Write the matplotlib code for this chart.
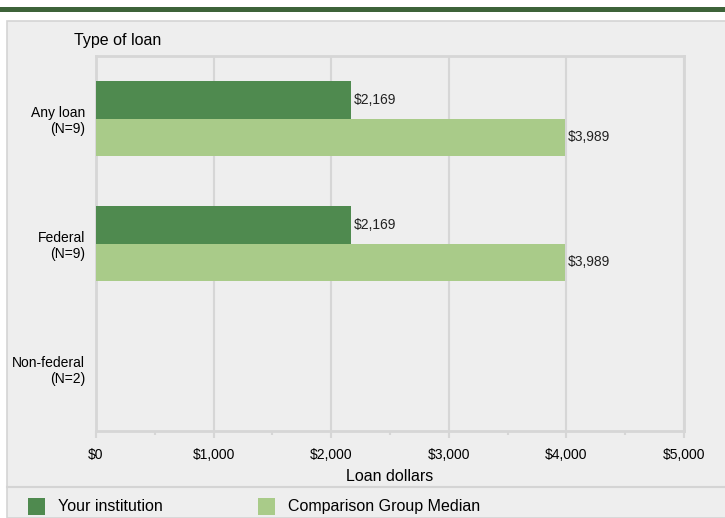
import matplotlib
matplotlib.use('Agg')
import matplotlib.pyplot as plt
from matplotlib.patches import Rectangle
from matplotlib.lines import Line2D
from matplotlib.ticker import MultipleLocator, FuncFormatter
import numpy as np

plt.rcParams['font.family'] = ['Liberation Sans', 'DejaVu Sans']

categories = ['Any loan\n(N=9)', 'Federal\n(N=9)', 'Non-federal\n(N=2)']
your_institution = [2169, 2169, np.nan]
comparison_median = [3989, 3989, np.nan]
x_ticks = [0, 1000, 2000, 3000, 4000, 5000]

DARK = '#4f8a4f'
LIGHT = '#a9cb89'
BG = '#eeeeee'
GRID = '#d6d6d6'

W, H = 725, 518
fig = plt.figure(figsize=(W / 100, H / 100), dpi=100)
fig.patch.set_facecolor('white')

def fx(px):
    return px / W

def fy(py):
    return 1 - py / H

# top band and panel (behind the axes)
fig.patches.append(Rectangle((0, fy(12)), 1, 5 / H, transform=fig.transFigure,
                             facecolor='#3d6339', edgecolor='none', zorder=-5))
fig.patches.append(Rectangle((fx(7), 0), 1, fy(21), transform=fig.transFigure,
                             facecolor=BG, edgecolor='#d4d4d4', linewidth=1.2, zorder=-5))
fig.lines.append(Line2D([fx(7), 1], [fy(487), fy(487)], transform=fig.transFigure,
                        color='#d4d4d4', linewidth=1.5, zorder=-4))

ax = fig.add_axes([fx(96), fy(431), fx(684) - fx(96), (431 - 56) / H])
ax.set_facecolor(BG)

y = np.arange(len(categories))
h = 0.3
bars1 = ax.barh(y - h / 2, your_institution, height=h, color=DARK, zorder=3)
bars2 = ax.barh(y + h / 2, comparison_median, height=h, color=LIGHT, zorder=3)

for bars, vals in ((bars1, your_institution), (bars2, comparison_median)):
    for b, v in zip(bars, vals):
        if np.isnan(v):
            continue
        ax.text(v + 25, b.get_y() + b.get_height() / 2, '${:,.0f}'.format(v),
                va='center', ha='left', fontsize=10, color='#222222', zorder=4)

ax.set_ylim(len(categories) - 0.5, -0.5)
ax.set_xlim(0, 5000)
ax.set_yticks(y)
ax.set_yticklabels(categories, fontsize=10, ha='right', multialignment='right')
ax.set_xticks(x_ticks)
ax.xaxis.set_major_formatter(FuncFormatter(lambda v, p: '${:,.0f}'.format(v)))
ax.xaxis.set_minor_locator(MultipleLocator(500))
ax.tick_params(axis='x', which='major', length=5, width=1.5, color=GRID, labelsize=10, pad=7)
ax.tick_params(axis='x', which='minor', length=3, width=1.5, color=GRID)
ax.tick_params(axis='y', length=0, pad=8)
ax.grid(axis='x', color=GRID, linewidth=1.5, zorder=0)
for s in ['top', 'right', 'left', 'bottom']:
    ax.spines[s].set_color(GRID)
    ax.spines[s].set_linewidth(2)
ax.set_xlabel('Loan dollars', fontsize=11.5, labelpad=5)

fig.text(fx(74), fy(41), 'Type of loan', fontsize=11.5, va='center', ha='left')

# legend
for px, label, col in ((28, 'Your institution', DARK), (258, 'Comparison Group Median', LIGHT)):
    fig.patches.append(Rectangle((fx(px), fy(515)), 17 / W, 17 / H, transform=fig.transFigure,
                                 facecolor=col, edgecolor='none'))
    fig.text(fx(px + 30), fy(511), label, fontsize=11.5, va='baseline', ha='left')

fig.savefig('out.png', dpi=100, facecolor=fig.get_facecolor())
